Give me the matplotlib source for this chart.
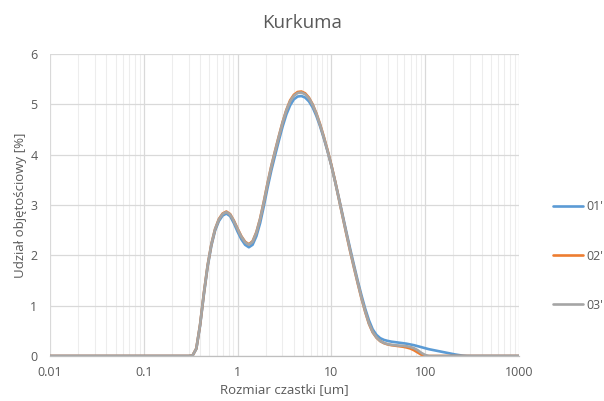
import matplotlib
matplotlib.use("Agg")
import matplotlib.pyplot as plt
from matplotlib.ticker import LogLocator, FixedLocator, NullFormatter

# Particle size classes [um]
sizes = [0.01, 0.1, 0.302, 0.331, 0.363, 0.398, 0.437, 0.479, 0.525, 0.575,
         0.631, 0.692, 0.759, 0.832, 0.912, 1.000, 1.096, 1.202, 1.318, 1.445,
         1.585, 1.738, 1.905, 2.089, 2.291, 2.512, 2.754, 3.020, 3.311, 3.631,
         3.981, 4.365, 4.786, 5.248, 5.754, 6.310, 6.918, 7.586, 8.318, 9.120,
         10.00, 10.96, 12.02, 13.18, 14.45, 15.85, 17.38, 19.05, 20.89, 22.91,
         25.12, 27.54, 30.20, 33.11, 36.31, 39.81, 43.65, 47.86, 52.48, 57.54,
         63.10, 69.18, 75.86, 83.18, 91.20, 100.0, 109.6, 120.2, 131.8, 144.5,
         158.5, 173.8, 190.5, 208.9, 229.1, 251.2, 275.4, 302.0, 1000.0]

# Volume fraction [%] for each measurement
s01 = [0, 0, 0, 0.01, 0.14, 0.60, 1.22, 1.77, 2.19, 2.49,
       2.68, 2.79, 2.83, 2.78, 2.64, 2.47, 2.32, 2.21, 2.16, 2.21,
       2.38, 2.64, 2.98, 3.35, 3.69, 3.99, 4.28, 4.56, 4.80, 4.98,
       5.10, 5.155, 5.165, 5.135, 5.06, 4.94, 4.77, 4.56, 4.32, 4.06,
       3.78, 3.47, 3.14, 2.80, 2.46, 2.13, 1.81, 1.50, 1.21, 0.94,
       0.71, 0.53, 0.42, 0.355, 0.32, 0.30, 0.285, 0.275, 0.265, 0.255,
       0.245, 0.23, 0.215, 0.195, 0.175, 0.155, 0.135, 0.12, 0.105, 0.09,
       0.075, 0.06, 0.045, 0.03, 0.018, 0.008, 0.002, 0, 0]
s02 = [0, 0, 0, 0.01, 0.15, 0.62, 1.25, 1.80, 2.22, 2.52,
       2.72, 2.83, 2.87, 2.82, 2.69, 2.53, 2.38, 2.27, 2.22, 2.28,
       2.46, 2.73, 3.07, 3.44, 3.78, 4.08, 4.37, 4.65, 4.89, 5.08,
       5.19, 5.245, 5.255, 5.22, 5.135, 5.00, 4.82, 4.60, 4.35, 4.08,
       3.79, 3.47, 3.12, 2.77, 2.42, 2.08, 1.76, 1.45, 1.15, 0.88,
       0.64, 0.47, 0.365, 0.295, 0.255, 0.23, 0.215, 0.205, 0.195, 0.185,
       0.17, 0.15, 0.115, 0.07, 0.025, 0, 0, 0, 0, 0,
       0, 0, 0, 0, 0, 0, 0, 0, 0]
s03 = [0, 0, 0, 0.01, 0.15, 0.62, 1.25, 1.80, 2.22, 2.52,
       2.71, 2.82, 2.86, 2.81, 2.68, 2.52, 2.37, 2.26, 2.21, 2.27,
       2.45, 2.72, 3.06, 3.43, 3.77, 4.07, 4.36, 4.64, 4.88, 5.06,
       5.17, 5.225, 5.235, 5.20, 5.12, 4.99, 4.81, 4.59, 4.34, 4.07,
       3.78, 3.46, 3.12, 2.77, 2.43, 2.09, 1.77, 1.46, 1.16, 0.89,
       0.65, 0.48, 0.37, 0.30, 0.26, 0.235, 0.222, 0.213, 0.207, 0.203,
       0.195, 0.18, 0.155, 0.115, 0.06, 0.02, 0, 0, 0, 0,
       0, 0, 0, 0, 0, 0, 0, 0, 0]

labels = ["01'", "02'", "03'"]
colors = ["#5B9BD5", "#ED7D31", "#A5A5A5"]
x_ticks = [0.01, 0.1, 1, 10, 100, 1000]
x_tick_labels = ["0.01", "0.1", "1", "10", "100", "1000"]
y_ticks = [0, 1, 2, 3, 4, 5, 6]

plt.rcParams["font.family"] = ["Open Sans", "DejaVu Sans"]
text_color = "#595959"

fig = plt.figure(figsize=(6.04, 4.01), dpi=100)
ax = fig.add_axes([50 / 604, 45 / 401, 469 / 604, 302 / 401])

lines = []
for vals, lab, col in zip([s01, s02, s03], labels, colors):
    ln, = ax.plot(sizes, vals, color=col, lw=1.9, label=lab,
                  solid_capstyle="round", solid_joinstyle="round")
    lines.append(ln)

ax.set_xscale("log")
ax.set_xlim(0.01, 1000)
ax.set_ylim(0, 6)
ax.xaxis.set_major_locator(FixedLocator(x_ticks))
ax.set_xticklabels(x_tick_labels)
ax.xaxis.set_minor_locator(LogLocator(base=10, subs=range(2, 10), numticks=20))
ax.xaxis.set_minor_formatter(NullFormatter())
ax.set_yticks(y_ticks)

ax.grid(True, which="major", color="#D9D9D9", lw=0.9)
ax.grid(True, which="minor", axis="x", color="#EDEDED", lw=0.8)
ax.set_axisbelow(True)

for side in ["top", "right", "left"]:
    ax.spines[side].set_visible(False)
ax.spines["bottom"].set_color("#BFBFBF")
ax.spines["bottom"].set_linewidth(0.9)

ax.tick_params(axis="both", which="both", length=0, labelsize=9,
               labelcolor=text_color)
ax.tick_params(axis="x", pad=7)
ax.tick_params(axis="y", pad=9)

ax.set_xlabel("Rozmiar czastki [um]", fontsize=9.5, color=text_color, labelpad=3)
ax.set_ylabel("Udział objętościowy [%]", fontsize=9.5, color=text_color, labelpad=2)

fig.text(0.5, 1 - 23 / 401, "Kurkuma", ha="center", va="center",
         fontsize=13.5, color=text_color)

leg = fig.legend(handles=lines, loc="center left",
                 bbox_to_anchor=(553 / 604, 1 - 256 / 401), frameon=False,
                 fontsize=9, labelspacing=2.9, handlelength=2.4,
                 handletextpad=0.3, borderpad=0, borderaxespad=0)
for t in leg.get_texts():
    t.set_color(text_color)

fig.savefig("out.png", dpi=100)
